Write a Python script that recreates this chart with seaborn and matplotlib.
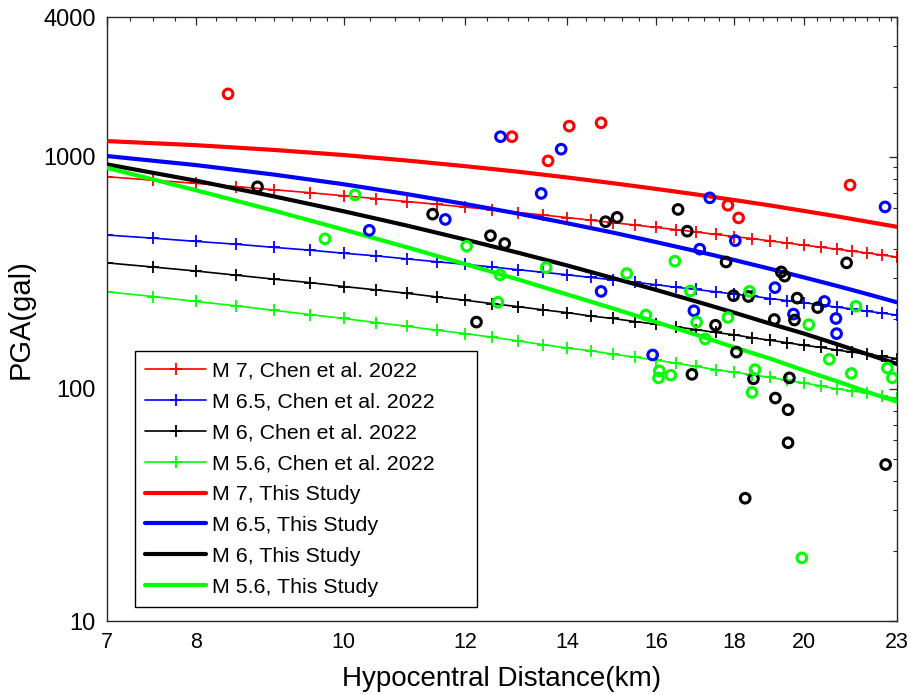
import numpy as np
import pandas as pd
import matplotlib
matplotlib.use("Agg")
import matplotlib.pyplot as plt
import seaborn as sns
from matplotlib.ticker import FixedLocator, NullFormatter, LogLocator

# ---------------- data ----------------
chen_dist = [7.0, 7.5, 8.0, 8.5, 9.0, 9.5, 10.0, 10.5, 11.0, 11.5, 12.0, 12.5, 13.0,
             13.5, 14.0, 14.5, 15.0, 15.5, 16.0, 16.5, 17.0, 17.5, 18.0, 18.5, 19.0,
             19.5, 20.0, 20.5, 21.0, 21.5, 22.0, 22.5, 23.0]
chen_m7 = [820, 793, 768, 744, 721, 700, 679, 660, 641, 624, 607, 591, 575, 561, 547, 533,
           520, 508, 496, 485, 474, 463, 453, 444, 434, 425, 416, 408, 400, 392, 385, 377, 370]
chen_m65 = [460, 446, 432, 420, 407, 396, 384, 374, 363, 353, 344, 335, 326, 318, 310, 302,
            295, 288, 281, 274, 268, 262, 256, 251, 245, 240, 235, 230, 225, 221, 216, 212, 208]
chen_m6 = [349, 335, 322, 309, 297, 287, 276, 267, 258, 249, 241, 233, 226, 219, 213, 206,
           201, 195, 190, 185, 180, 175, 171, 166, 162, 158, 154, 151, 147, 144, 141, 138, 135]
chen_m56 = [262, 250, 238, 228, 218, 209, 201, 193, 186, 179, 173, 167, 161, 155, 150, 146,
            141, 137, 133, 129, 125, 121, 118, 115, 112, 109, 106, 103, 100, 98, 96, 93, 91]

study_dist = [7, 8, 9, 10, 11, 12, 13, 14, 15, 16, 17, 18, 19, 20, 21, 22, 23]
study_m7 = [1168, 1122, 1070, 1017, 963, 911, 862, 814, 769, 727, 688, 651, 617, 584, 554, 525, 499]
study_m65 = [1007, 921, 838, 761, 690, 626, 569, 517, 471, 429, 392, 359, 329, 302, 278, 256, 236]
study_m6 = [927, 789, 675, 582, 505, 440, 386, 340, 300, 267, 238, 213, 191, 173, 156, 141, 128]
study_m56 = [896, 718, 586, 485, 407, 345, 296, 255, 222, 194, 171, 151, 135, 120, 108, 97, 88]

obs_m7_dist = [8.40, 12.88, 13.60, 14.04, 14.73, 17.83, 18.12, 21.43]
obs_m7_pga = [1865, 1220, 960, 1355, 1400, 618, 545, 755]

obs_m65_dist = [10.39, 11.65, 12.66, 13.46, 13.87, 14.73, 15.92, 16.94, 17.09, 17.35, 18.03,
                19.14, 19.68, 20.62, 20.98, 21.00, 22.59]
obs_m65_pga = [482, 537, 1220, 695, 1078, 263, 140, 217, 400, 665, 435, 273, 210, 238, 201, 173, 608]

obs_m6_dist = [8.78, 11.43, 12.21, 12.47, 12.74, 14.83, 15.09, 16.54, 16.77, 16.89, 17.50,
               17.78, 17.98, 18.06, 18.30, 18.39, 18.53, 19.12, 19.15, 19.32, 19.42, 19.52,
               19.52, 19.56, 19.71, 19.79, 20.41, 21.32, 22.61]
obs_m6_pga = [742, 566, 194, 457, 423, 525, 548, 593, 478, 115.5, 188, 352, 252, 144, 33.8,
              250, 110.5, 199, 91.3, 319, 306, 81.3, 58.6, 111.5, 198, 246, 224, 349, 47.2]

obs_m56_dist = [9.72, 10.17, 12.03, 12.61, 12.65, 13.56, 15.31, 15.76, 16.06, 16.08, 16.36,
                16.46, 16.85, 17.01, 17.23, 17.83, 18.42, 18.49, 18.57, 19.93, 20.14, 20.77,
                21.47, 21.62, 22.67, 22.84]
obs_m56_pga = [443, 685, 412, 236, 310, 333, 314, 208, 111.5, 119.5, 114.5, 355, 264, 194,
               164, 203, 263, 96.5, 121, 18.7, 189, 134, 116.5, 227, 123, 111.5]

x_ticks = [7, 8, 10, 12, 14, 16, 18, 20, 23]
y_ticks = [10, 100, 1000, 4000]
mags = ["7", "6.5", "6", "5.6"]
colors = ["#FF0000", "#0000FF", "#000000", "#00FF00"]

# ---------------- style ----------------
sns.set_theme(style="white")
plt.rcParams["font.family"] = ["Liberation Sans", "DejaVu Sans"]
plt.rcParams["axes.unicode_minus"] = False
plt.rcParams["text.color"] = "black"
plt.rcParams["axes.labelcolor"] = "black"

fig = plt.figure(figsize=(9.12, 6.95), dpi=100)
ax = fig.add_axes([107 / 912, 74 / 695, 790 / 912, 604 / 695])
ax.set_xscale("log")
ax.set_yscale("log")

chen_vals = [chen_m7, chen_m65, chen_m6, chen_m56]
study_vals = [study_m7, study_m65, study_m6, study_m56]
obs_d = [obs_m7_dist, obs_m65_dist, obs_m6_dist, obs_m56_dist]
obs_p = [obs_m7_pga, obs_m65_pga, obs_m6_pga, obs_m56_pga]

handles = []
labels = []
for m, c, vals in zip(mags, colors, chen_vals):
    df = pd.DataFrame({"d": chen_dist, "pga": vals})
    sns.lineplot(data=df, x="d", y="pga", ax=ax, color=c, lw=1.2, marker="+",
                 markersize=8.5, markeredgewidth=1.3, markeredgecolor=c,
                 markerfacecolor=c, zorder=2)
    handles.append(ax.lines[-1])
    labels.append(f"M {m}, Chen et al. 2022")
for m, c, vals in zip(mags, colors, study_vals):
    df = pd.DataFrame({"d": study_dist, "pga": vals})
    sns.lineplot(data=df, x="d", y="pga", ax=ax, color=c, lw=3.0, zorder=3)
    handles.append(ax.lines[-1])
    labels.append(f"M {m}, This Study")
for c, d, p in zip(colors, obs_d, obs_p):
    df = pd.DataFrame({"d": d, "pga": p})
    sns.scatterplot(data=df, x="d", y="pga", ax=ax, marker="o", s=48,
                    facecolor="none", edgecolor=c, linewidth=2.2, zorder=4, legend=False)

ax.set_xlim(7, 23)
ax.set_ylim(10, 4000)

ax.xaxis.set_major_locator(FixedLocator(x_ticks))
ax.set_xticklabels([str(t) for t in x_ticks])
minor_x = [7.25, 7.5, 7.75, 8.25, 8.5, 8.75, 9.0, 9.25, 9.5, 9.75,
           10.4, 10.8, 11.2, 11.6, 12.4, 12.8, 13.2, 13.6, 14.4, 14.8, 15.2, 15.6,
           16.4, 16.8, 17.2, 17.6, 18.4, 18.8, 19.2, 19.6,
           20.4, 20.8, 21.2, 21.6, 22.0, 22.4, 22.8]
ax.xaxis.set_minor_locator(FixedLocator(minor_x))
ax.xaxis.set_minor_formatter(NullFormatter())
ax.yaxis.set_major_locator(FixedLocator(y_ticks))
ax.set_yticklabels([str(t) for t in y_ticks])
ax.yaxis.set_minor_locator(LogLocator(base=10, subs=np.arange(2, 10), numticks=20))
ax.yaxis.set_minor_formatter(NullFormatter())

axis_col = "#262626"
ax.tick_params(which="both", direction="in", top=True, right=True, color=axis_col,
               labelcolor="black")
ax.tick_params(which="major", length=6, width=0.9)
ax.tick_params(which="minor", length=3, width=0.8)
ax.tick_params(axis="x", which="major", labelsize=15.5, pad=8)
ax.tick_params(axis="y", which="major", labelsize=17, pad=8)
for sp in ax.spines.values():
    sp.set_color(axis_col)
    sp.set_linewidth(1.0)
    sp.set_visible(True)

ax.set_xlabel("Hypocentral Distance(km)", fontsize=20, labelpad=9)
ax.set_ylabel("PGA(gal)", fontsize=21, labelpad=6)

leg = ax.legend(handles, labels, loc="lower left",
                bbox_to_anchor=(0.0354, 0.0232, 0.433, 0.42), mode="expand",
                fontsize=15.4, frameon=True, fancybox=False, framealpha=1,
                edgecolor="black", handlelength=2.85, handletextpad=0.28,
                labelspacing=0.555, borderpad=0.48, borderaxespad=0)
leg.get_frame().set_linewidth(1.0)
for t in leg.get_texts():
    t.set_color("black")

fig.savefig("out.png", dpi=100)
